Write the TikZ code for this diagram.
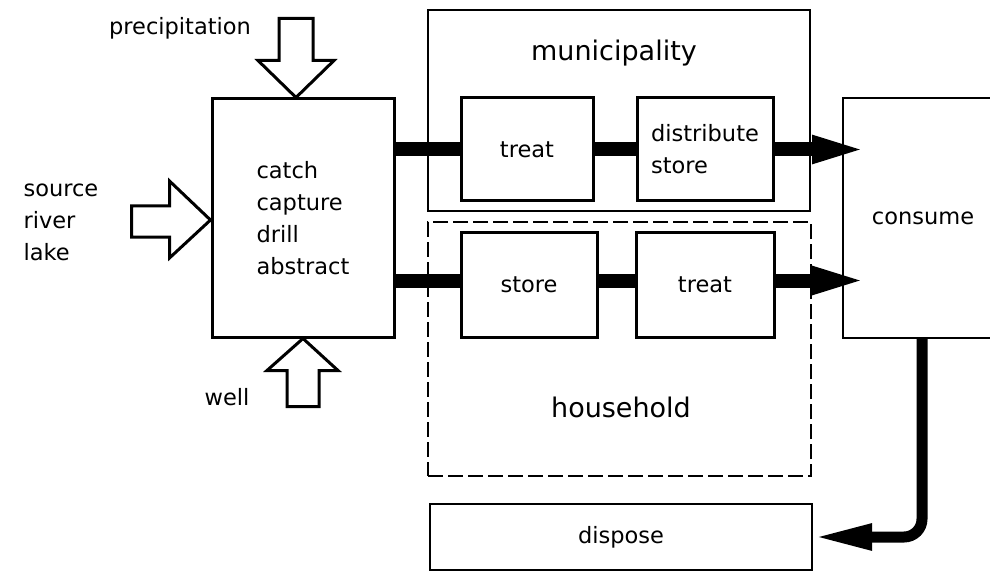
\documentclass[tikz,border=0pt]{standalone}
\usepackage{fontspec}
\setmainfont{DejaVu Sans}
\usetikzlibrary{arrows.meta}

\begin{document}
\begin{tikzpicture}[x=1pt,y=-1pt,
  box/.style={draw,line width=3pt,inner sep=0pt,font=\fontsize{22.5}{32}\selectfont},
  group/.style={draw,line width=2pt,inner sep=0pt},
  grouplabel/.style={font=\fontsize{27}{32}\selectfont},
  label/.style={font=\fontsize{22.5}{32}\selectfont,align=left},
  flow/.style={line width=14pt},
  flowtip/.style={-{Triangle[length=60pt,width=24pt]}},
  hollow/.style={draw,line width=3pt,line join=miter}]
\clip (0,0) rectangle (990,572);

\node[group,minimum width=382pt,minimum height=201pt] (muni) at (619,110.5) {};
\node[grouplabel] (munilabel) at (614,53) {municipality};
\node[group,dash pattern=on 15pt off 5pt,minimum width=383pt,minimum height=254pt] (house) at (619.5,349) {};
\node[grouplabel] (houselabel) at (621,407) {household};

\node[box,minimum width=182pt,minimum height=238pt,align=left] (main) at (303,218) {catch\\capture\\drill\\abstract};
\node[box,minimum width=132pt,minimum height=103pt] (mtreat) at (527,149.5) {treat};
\node[box,minimum width=136pt,minimum height=103pt,align=left] (distr) at (705,149.5) {distribute\\store};
\node[box,minimum width=136pt,minimum height=105pt] (hstore) at (529,284.5) {store};
\node[box,minimum width=138pt,minimum height=105pt] (htreat) at (705,284.5) {treat};
\node[box,line width=2pt,minimum width=160pt,minimum height=240pt] (consume) at (923,218) {consume};
\node[box,line width=2pt,minimum width=382pt,minimum height=66pt] (dispose) at (621,537) {dispose};

\node[label] (precip) at (180,28) {precipitation};
\node[label,anchor=west] (source) at (20,222) {source\\river\\lake};
\node[label] (well) at (227,397) {well};

% inflows
\draw[hollow] ([xshift=-7pt]main.north) -- ++(-38,-37) -- ++(21,0) -- ++(0,-42)
  -- ++(34,0) -- ++(0,42) -- ++(21,0) -- cycle;
\draw[hollow] ([yshift=-2pt]main.west) -- ++(-41,-39) -- ++(0,25) -- ++(-38,0)
  -- ++(0,31) -- ++(38,0) -- ++(0,21) -- cycle;
\draw[hollow] (main.south) -- ++(35,32) -- ++(-19,0) -- ++(0,36)
  -- ++(-32,0) -- ++(0,-36) -- ++(-20,0) -- cycle;

% flows
\draw[flow] (main.east |- mtreat.west) -- (mtreat.west);
\draw[flow] (mtreat) -- (distr);
\draw[flow,flowtip] (distr.east) -- ([xshift=30pt]consume.west |- distr.east);
\draw[flow] ([yshift=4pt]main.east |- hstore.west) -- ([yshift=4pt]hstore.west);
\draw[flow] ([yshift=4pt]hstore.east) -- ([yshift=4pt]htreat.west);
\draw[flow,flowtip] ([yshift=4pt]htreat.east) -- ([xshift=30pt,yshift=4pt]consume.west |- htreat.east);
\draw[line width=11pt,-{Triangle[length=59pt,width=24pt]},rounded corners=18pt]
  ([xshift=-1pt]consume.south) |- (dispose.east);
\end{tikzpicture}
\end{document}
